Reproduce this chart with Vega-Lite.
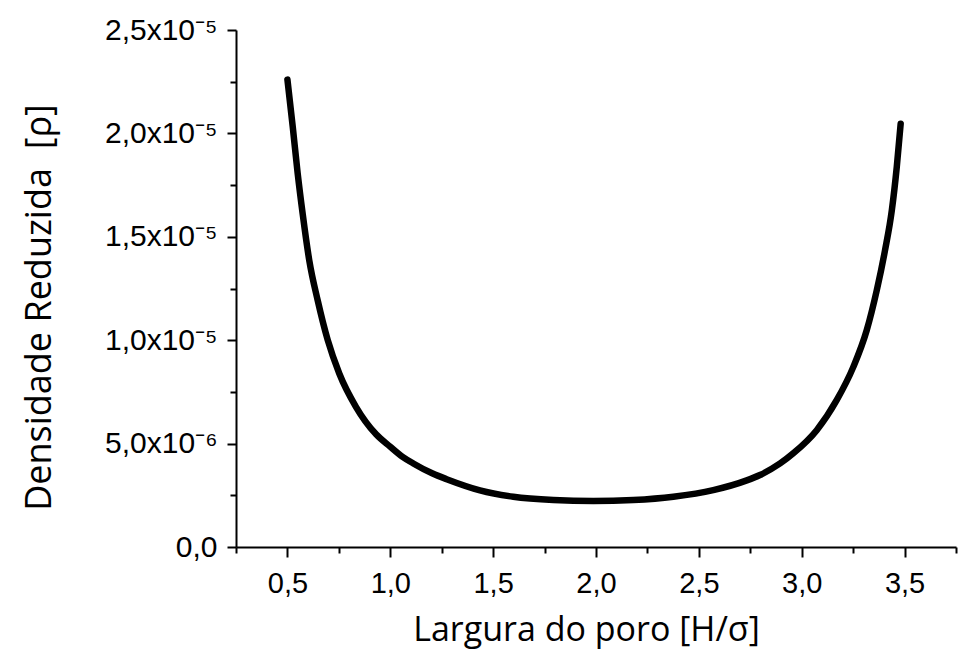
{
  "$schema": "https://vega.github.io/schema/vega-lite/v6.json",
  "width": 720,
  "height": 517,
  "autosize": {"type": "none"},
  "padding": {"left": 236, "top": 30, "right": 13, "bottom": 104},
  "background": "white",
  "config": {"view": {"stroke": null}},
  "data": {"values": [
    {"H": 0.5, "rho": 2.26e-5},
    {"H": 0.526, "rho": 2.03e-5},
    {"H": 0.55, "rho": 1.805e-5},
    {"H": 0.574, "rho": 1.612e-5},
    {"H": 0.606, "rho": 1.387e-5},
    {"H": 0.647, "rho": 1.193e-5},
    {"H": 0.696, "rho": 1.0e-5},
    {"H": 0.752, "rho": 8.39e-6},
    {"H": 0.833, "rho": 6.78e-6},
    {"H": 0.931, "rho": 5.45e-6},
    {"H": 1.0, "rho": 4.85e-6},
    {"H": 1.06, "rho": 4.36e-6},
    {"H": 1.112, "rho": 4.04e-6},
    {"H": 1.206, "rho": 3.55e-6},
    {"H": 1.274, "rho": 3.28e-6},
    {"H": 1.436, "rho": 2.74e-6},
    {"H": 1.598, "rho": 2.43e-6},
    {"H": 1.793, "rho": 2.27e-6},
    {"H": 1.987, "rho": 2.22e-6},
    {"H": 2.181, "rho": 2.27e-6},
    {"H": 2.376, "rho": 2.43e-6},
    {"H": 2.57, "rho": 2.75e-6},
    {"H": 2.733, "rho": 3.22e-6},
    {"H": 2.797, "rho": 3.48e-6},
    {"H": 2.895, "rho": 4.04e-6},
    {"H": 2.959, "rho": 4.53e-6},
    {"H": 3.073, "rho": 5.65e-6},
    {"H": 3.17, "rho": 7.1e-6},
    {"H": 3.251, "rho": 8.71e-6},
    {"H": 3.316, "rho": 1.048e-5},
    {"H": 3.365, "rho": 1.242e-5},
    {"H": 3.405, "rho": 1.435e-5},
    {"H": 3.438, "rho": 1.628e-5},
    {"H": 3.462, "rho": 1.837e-5},
    {"H": 3.481, "rho": 2.047e-5}
  ]},
  "mark": {"type": "line", "color": "black", "strokeWidth": 6.5, "strokeCap": "round", "strokeJoin": "round", "interpolate": "monotone"},
  "encoding": {
    "x": {
      "field": "H", "type": "quantitative",
      "scale": {"domain": [0.25, 3.75], "nice": false, "zero": false},
      "axis": {
        "title": "Largura do poro [H/σ]",
        "values": [0.25, 0.5, 0.75, 1.0, 1.25, 1.5, 1.75, 2.0, 2.25, 2.5, 2.75, 3.0, 3.25, 3.5, 3.75],
        "labelExpr": "round(datum.value*4)%2==0 ? replace(format(datum.value,'.1f'),'.',',') : ''",
        "tickSize": {"condition": {"test": "round(datum.value*4)%2==0", "value": 10}, "value": 6},
        "grid": false,
        "domainColor": "black", "domainWidth": 2,
        "tickColor": "black", "tickWidth": 2,
        "labelFont": "Liberation Sans", "labelFontSize": 29, "labelColor": "black",
        "labelPadding": 12, "labelOverlap": false, "labelFlush": false,
        "titleFont": "Open Sans", "titleFontSize": 34, "titleFontWeight": "normal", "titleColor": "black",
        "titleX": 350, "titleY": 93, "titleBaseline": "alphabetic", "titleAlign": "center"
      }
    },
    "y": {
      "field": "rho", "type": "quantitative",
      "scale": {"domain": [0, 2.5e-5], "nice": false},
      "axis": {
        "title": "Densidade Reduzida\u00a0\u00a0[ρ]",
        "values": [0, 2.5e-6, 5e-6, 7.5e-6, 1e-5, 1.25e-5, 1.5e-5, 1.75e-5, 2e-5, 2.25e-5, 2.5e-5],
        "labelExpr": "round(datum.value*1e7)==0 ? '0,0' : round(datum.value*1e7)==50 ? '5,0x10⁻⁶' : round(datum.value*1e7)==100 ? '1,0x10⁻⁵' : round(datum.value*1e7)==150 ? '1,5x10⁻⁵' : round(datum.value*1e7)==200 ? '2,0x10⁻⁵' : round(datum.value*1e7)==250 ? '2,5x10⁻⁵' : ''",
        "tickSize": {"condition": {"test": "round(datum.value*4e5)%2==0", "value": 9}, "value": 6},
        "grid": false,
        "domainColor": "black", "domainWidth": 2,
        "tickColor": "black", "tickWidth": 2,
        "labelFont": "Liberation Sans", "labelFontSize": 30, "labelColor": "black",
        "labelPadding": 10, "labelOverlap": false, "labelFlush": false,
        "titleFont": "Open Sans", "titleFontSize": 36, "titleFontWeight": "normal", "titleColor": "black",
        "titleAngle": -90, "titleX": -186, "titleY": 277, "titleBaseline": "alphabetic", "titleAlign": "center"
      }
    }
  }
}
